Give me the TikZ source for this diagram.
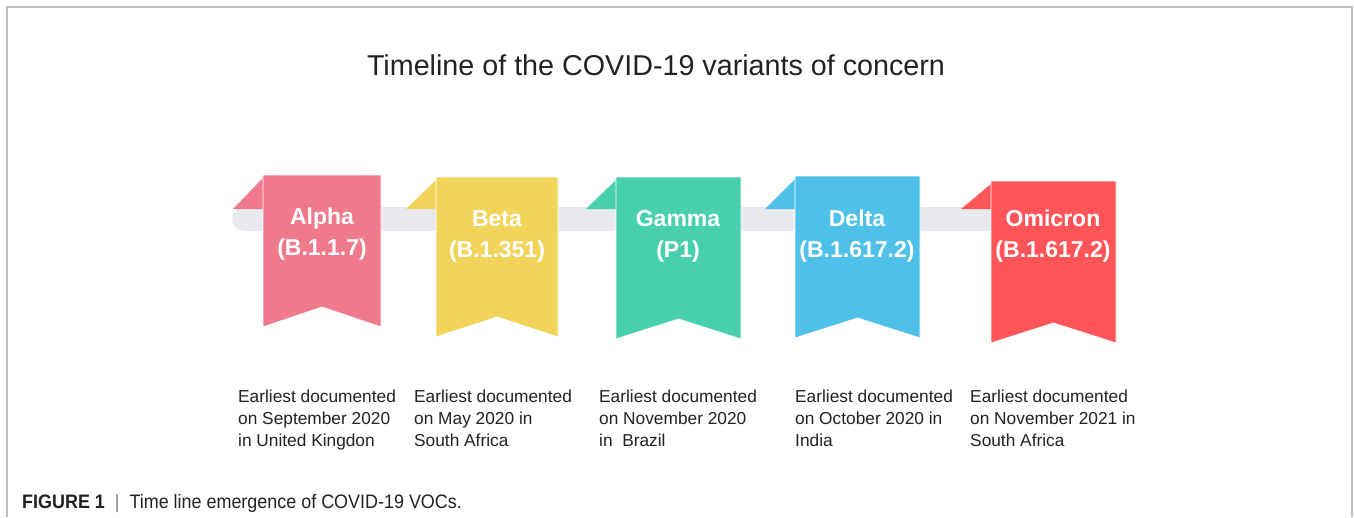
\documentclass[tikz,border=0pt]{standalone}
\usepackage{fontspec}
\setmainfont{Liberation Sans}
\newfontfamily\capfont[FakeStretch=0.92]{Liberation Sans}
\usetikzlibrary{positioning}
\definecolor{framegray}{HTML}{BDBDBD}
\definecolor{bargray}{HTML}{E8E9EE}
\definecolor{alphacol}{HTML}{EE7A8C}
\definecolor{betacol}{HTML}{F2D45A}
\definecolor{gammacol}{HTML}{48CFAD}
\definecolor{deltacol}{HTML}{4FC0E8}
\definecolor{omicroncol}{HTML}{FF5558}
\definecolor{inkgray}{HTML}{222222}
\tikzset{
        x=1pt, y=-1pt, % one unit is one pixel of the figure, y runs down
        ribbon/.style={draw=white, line width=0.8pt}, % the hanging banner
        tag/.style={text=white, align=center, font=\bfseries\fontsize{23}{31}\selectfont}, % name on the banner
        note/.style={anchor=north west, align=left, inner sep=0pt, text=inkgray, font=\fontsize{17.3}{22}\selectfont}, % text below
    }
% banner: #1 left x, #2 top y, #3 width, #4 bottom y, #5 colour
\newcommand{\vocribbon}[5]{
    \fill[#5] (#1-30,209) -- (#1,#2+3) -- (#1,209) -- cycle;
    \filldraw[ribbon, fill=#5] (#1,#2) -- (#1+#3,#2) -- (#1+#3,#4)
        -- (#1+#3/2,#4-20) -- (#1,#4) -- cycle;
}

\begin{document}
\begin{tikzpicture}
    \useasboundingbox (0,0) rectangle (1354,517);
    \draw[framegray, line width=1.5pt] (7,517) -- (7,7) -- (1352,7) -- (1352,517);
    \node[text=inkgray, font=\fontsize{28.7}{32}\selectfont] (title) at (656,65) {Timeline of the COVID-19 variants of concern};

    \fill[bargray, rounded corners=12pt] (232,207) rectangle (1000,231);

    \vocribbon{263}{175}{118}{327}{alphacol}
    \vocribbon{436}{177}{122}{337}{betacol}
    \vocribbon{616}{177}{125}{339}{gammacol}
    \vocribbon{795}{176}{125}{338}{deltacol}
    \vocribbon{991}{181}{125}{343}{omicroncol}

    \node[tag] (alpha) at (322,234) {Alpha\\(B.1.1.7)};
    \node[tag] (beta) at (497,236) {Beta\\(B.1.351)};
    \node[tag] (gamma) at (678,236) {Gamma\\(P1)};
    \node[tag] (delta) at (857,236) {Delta\\(B.1.617.2)};
    \node[tag] (omicron) at (1053,236) {Omicron\\(B.1.617.2)};

    \node[note] (alphanote) at (238,390) {Earliest documented\\on September 2020\\in United Kingdon};
    \node[note] (betanote) at (414,390) {Earliest documented\\on May 2020 in\\South Africa};
    \node[note] (gammanote) at (599,390) {Earliest documented\\on November 2020\\in\ \ Brazil};
    \node[note] (deltanote) at (795,390) {Earliest documented\\on October 2020 in\\India};
    \node[note] (omicronnote) at (970,390) {Earliest documented\\on November 2021 in\\South Africa};

    \node[anchor=base west, inner sep=0pt, text=inkgray, font=\capfont\fontsize{19.5}{21}\selectfont] (caption) at (22,508)
        {\textbf{FIGURE 1}\ \ {\color{gray}|}\ \ Time line emergence of COVID-19 VOCs.};
\end{tikzpicture}
\end{document}
